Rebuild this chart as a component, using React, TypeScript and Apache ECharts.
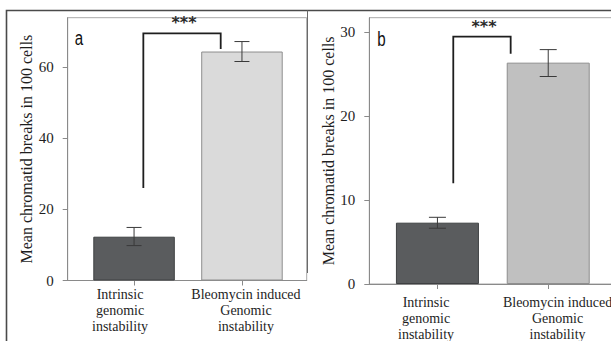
import React, { useEffect, useRef } from "react";
import * as echarts from "echarts";

// ---- data ----
const categories = ["Intrinsic\ngenomic\ninstability", "Bleomycin induced\nGenomic\ninstability"];
const xPositions = [1, 2];

const meansA = [12.3, 64.3];
const errLowA = [9.8, 61.5];
const errHighA = [14.9, 67.1];

const meansB = [7.3, 26.35];
const errLowB = [6.64, 24.7];
const errHighB = [7.94, 27.9];

const yTicksA = [0, 20, 40, 60];
const yTicksB = [0, 10, 20, 30];

// significance brackets: [left x, right x, top y, left leg end y, right leg end y]
const bracketA = [1.086, 1.803, 69.4, 26.0, 65.0];
const bracketB = [1.143, 1.661, 29.44, 12.0, 27.4];
const significance = "***";

const yTitle = "Mean chromatid breaks in 100 cells";

// ---- layout / style ----
const labelPosA = [0.87, 2.037];
const labelPosB = [0.897, 2.084];
const darkBar = "#5a5c5e";
const darkBorder = "#3e4042";
const lightBarA = "#dadada";
const lightBarB = "#c0c0c0";
const lightBorder = "#8e8e8e";
const axisColor = "#8a8a8a";
const textColor = "#1e1e1e";
const serif = "'Liberation Serif', 'Times New Roman', serif";

function errorRender(capHalf: number) {
  return (params: any, api: any) => {
    const x = api.value(0);
    const lo = api.value(1);
    const hi = api.value(2);
    const pHi = api.coord([x, hi]);
    const pLo = api.coord([x, lo]);
    const style = { stroke: "#3a3a3a", lineWidth: 1 };
    return {
      type: "group",
      children: [
        { type: "line", shape: { x1: pHi[0], y1: pHi[1], x2: pLo[0], y2: pLo[1] }, style },
        { type: "line", shape: { x1: pHi[0] - capHalf, y1: pHi[1], x2: pHi[0] + capHalf, y2: pHi[1] }, style },
        { type: "line", shape: { x1: pLo[0] - capHalf, y1: pLo[1], x2: pLo[0] + capHalf, y2: pLo[1] }, style },
      ],
    };
  };
}

function bracketRender(params: any, api: any) {
  const xl = api.value(0);
  const xr = api.value(1);
  const top = api.value(2);
  const le = api.value(3);
  const re = api.value(4);
  const p1 = api.coord([xl, le]);
  const p2 = api.coord([xl, top]);
  const p3 = api.coord([xr, top]);
  const p4 = api.coord([xr, re]);
  return {
    type: "group",
    children: [
      {
        type: "polyline",
        shape: { points: [p1, p2, p3, p4] },
        style: { stroke: "#1e1e1e", lineWidth: 1.8, fill: null },
      },
      {
        type: "text",
        x: (p2[0] + p3[0]) / 2 + 2,
        y: p2[1] - 10.5,
        style: {
          text: significance,
          fontSize: 16,
          fontWeight: "bold",
          fontFamily: "'DejaVu Sans', sans-serif",
          fill: "#2a2a2a",
          align: "center",
          verticalAlign: "middle",
        },
      },
    ],
  };
}

function yAxisCfg(grid: number, max: number, ticks: number[], gap: number) {
  return {
    gridIndex: grid,
    type: "value",
    min: 0,
    max,
    axisLine: { show: true, lineStyle: { color: axisColor, width: 1 } },
    axisTick: { show: true, length: 5, customValues: ticks, lineStyle: { color: axisColor } },
    axisLabel: { customValues: ticks, margin: 14, fontSize: 15, color: textColor, fontFamily: serif },
    splitLine: { show: false },
    name: yTitle,
    nameLocation: "middle",
    nameGap: gap,
    nameTextStyle: { fontSize: 16, fontFamily: serif, color: textColor },
  };
}

function xAxisCfg(grid: number, labelPos: number[], margin: number) {
  return {
    gridIndex: grid,
    type: "value",
    min: 0.385,
    max: 2.6,
    axisLine: { show: true, onZero: false, lineStyle: { color: axisColor, width: 1 } },
    axisTick: { show: true, length: 5, customValues: xPositions, lineStyle: { color: axisColor } },
    axisLabel: {
      customValues: labelPos,
      formatter: (v: number) => (v < 1.5 ? categories[0] : categories[1]),
      margin,
      fontSize: 14,
      lineHeight: 16,
      color: textColor,
      fontFamily: serif,
      align: "center",
    },
    splitLine: { show: false },
  };
}

function barData(means: number[], light: string) {
  return xPositions.map((x, i) => ({
    value: [x, means[i]],
    itemStyle: {
      color: i === 0 ? darkBar : light,
      borderColor: i === 0 ? darkBorder : lightBorder,
      borderWidth: 1,
    },
  }));
}

export default function App() {
  const ref = useRef<HTMLDivElement>(null);
  useEffect(() => {
    if (!ref.current) return;
    const chart = echarts.init(ref.current, null, { renderer: "svg" });
    chart.setOption({
      animation: false,
      backgroundColor: "#ffffff",
      textStyle: { fontFamily: serif },
      grid: [
        {
          left: 67.7, top: 17.7, width: 239, height: 262.8,
          show: true, borderColor: "#a8a8a8", borderWidth: 1,
          containLabel: false, outerBoundsMode: "none",
        },
        {
          left: 369.3, top: 17.7, width: 245.4, height: 266.3,
          show: true, borderColor: "#a8a8a8", borderWidth: 1,
          containLabel: false, outerBoundsMode: "none",
        },
      ],
      xAxis: [xAxisCfg(0, labelPosA, 6), xAxisCfg(1, labelPosB, 10)],
      yAxis: [yAxisCfg(0, 73.8, yTicksA, 31), yAxisCfg(1, 31.7, yTicksB, 33)],
      series: [
        { type: "bar", xAxisIndex: 0, yAxisIndex: 0, barWidth: 81.5, data: barData(meansA, lightBarA) },
        { type: "bar", xAxisIndex: 1, yAxisIndex: 1, barWidth: 83, data: barData(meansB, lightBarB) },
        {
          type: "custom",
          xAxisIndex: 0,
          yAxisIndex: 0,
          encode: { x: 0, y: [1, 2] },
          renderItem: errorRender(7.5),
          data: xPositions.map((x, i) => [x, errLowA[i], errHighA[i]]),
          z: 5,
        },
        {
          type: "custom",
          xAxisIndex: 1,
          yAxisIndex: 1,
          encode: { x: 0, y: [1, 2] },
          renderItem: errorRender(8.5),
          data: xPositions.map((x, i) => [x, errLowB[i], errHighB[i]]),
          z: 5,
        },
        {
          type: "custom",
          xAxisIndex: 0,
          yAxisIndex: 0,
          encode: { x: [0, 1], y: [2, 3, 4] },
          renderItem: bracketRender,
          data: [bracketA],
          z: 6,
        },
        {
          type: "custom",
          xAxisIndex: 1,
          yAxisIndex: 1,
          encode: { x: [0, 1], y: [2, 3, 4] },
          renderItem: bracketRender,
          data: [bracketB],
          z: 6,
        },
      ],
      graphic: [
        {
          type: "polyline",
          shape: { points: [[6.5, 345], [6.5, 10.5], [615, 10.5]] },
          style: { stroke: "#4a4a4a", lineWidth: 1.6, fill: null },
          silent: true,
        },
        {
          type: "line",
          shape: { x1: 307.5, y1: 10.5, x2: 307.5, y2: 273 },
          style: { stroke: "#6a6a6a", lineWidth: 1 },
          silent: true,
        },
        {
          type: "text",
          x: 79,
          y: 38,
          scaleX: 0.72,
          style: { text: "a", fontSize: 21, fontFamily: "'Liberation Sans', Arial, sans-serif", fill: "#111", align: "center", verticalAlign: "middle" },
        },
        {
          type: "text",
          x: 381.5,
          y: 38.5,
          scaleX: 0.72,
          style: { text: "b", fontSize: 21, fontFamily: "'Liberation Sans', Arial, sans-serif", fill: "#111", align: "center", verticalAlign: "middle" },
        },
      ],
    });
    return () => chart.dispose();
  }, []);
  return (
    <div
      ref={ref}
      style={{ position: "absolute", left: 0, top: 0, width: 611, height: 341, overflow: "hidden" }}
    />
  );
}
